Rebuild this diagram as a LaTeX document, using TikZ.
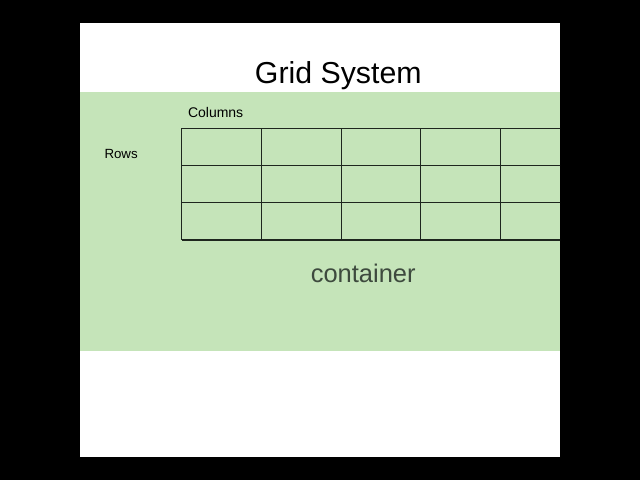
\documentclass[tikz,border=0pt]{standalone}
\usepackage{fontspec}
\setmainfont{Liberation Sans}
\definecolor{pagebg}{HTML}{000000}
\definecolor{sheet}{HTML}{FFFFFF}
\definecolor{contgreen}{HTML}{C5E4B9}
\definecolor{gridline}{HTML}{1E261E}
\definecolor{conttext}{HTML}{3E4A3E}
\begin{document}
\begin{tikzpicture}[x=1pt,y=-1pt,
  lbl/.style={inner sep=0pt,anchor=base west,font=\fontsize{14}{16}\selectfont},
  gridln/.style={draw=gridline,line width=1.1pt}]
\useasboundingbox (0,0) rectangle (640,480);
\fill[pagebg] (0,0) rectangle (640,480);
\fill[sheet] (80,22.7) rectangle (560,457.3);
\fill[contgreen] (80,92) rectangle (560,351);
\node[inner sep=0pt,anchor=base,font=\fontsize{30.3}{34}\selectfont] (title) at (338.3,83.3) {Grid System};
\node[lbl] (cols) at (187.8,117.7) {Columns};
\node[lbl,font=\fontsize{13.3}{16}\selectfont] (rows) at (104.3,158.3) {Rows};
\node[inner sep=0pt,anchor=base,text=conttext,font=\fontsize{25.5}{30}\selectfont] (cont) at (363.2,282.7) {container};
\begin{scope}
\clip (80,0) rectangle (560,480);
\foreach \yy in {128.3,165.3,202.7,240} \draw[gridln] (181.7,\yy) -- (570,\yy);
\foreach \xx in {181.7,261.7,341.3,420.7,500.3} \draw[gridln] (\xx,128.3) -- (\xx,240);
\end{scope}
\end{tikzpicture}
\end{document}
